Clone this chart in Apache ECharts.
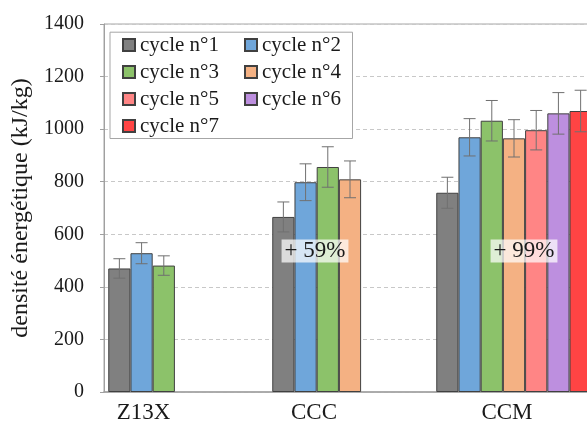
<!DOCTYPE html>
<html>
<head>
<meta charset="utf-8">
<script src="https://cdn.jsdelivr.net/npm/echarts@6/dist/echarts.min.js"></script>
<style>html,body{margin:0;padding:0;background:#fff;}#c{width:587px;height:422px;}</style>
</head>
<body>
<div id="c"></div>
<script>
const categories = ['Z13X', 'CCC', 'CCM'];
const seriesNames = ['cycle n°1', 'cycle n°2', 'cycle n°3', 'cycle n°4', 'cycle n°5', 'cycle n°6', 'cycle n°7'];
const cycle1 = [470, 666, 758];
const cycle2 = [528, 798, 969];
const cycle3 = [481, 856, 1032];
const cycle4 = [null, 809, 965];
const cycle5 = [null, null, 996];
const cycle6 = [null, null, 1060];
const cycle7 = [null, null, 1069];
const err1 = [37, 57, 59];
const err2 = [40, 70, 71];
const err3 = [37, 77, 77];
const err4 = [null, 70, 71];
const err5 = [null, null, 75];
const err6 = [null, null, 79];
const err7 = [null, null, 79];
const annotations = [{ cat: 'CCC', text: '+ 59%' }, { cat: 'CCM', text: '+ 99%' }];
const yTicks = [0, 200, 400, 600, 800, 1000, 1200, 1400];

const values = [cycle1, cycle2, cycle3, cycle4, cycle5, cycle6, cycle7];
const errors = [err1, err2, err3, err4, err5, err6, err7];
const colors = ['#808080', '#6fa6da', '#8cc26a', '#f4b183', '#ff8585', '#bd8fdf', '#ff4444'];
const FONT = 'Liberation Serif';
const GAP = 0.052;
const N = seriesNames.length;

const series = [];
values.forEach((vals, s) => {
  series.push({
    name: seriesNames[s], type: 'bar',
    data: vals.map(v => v == null ? '-' : v),
    barGap: '0%', barCategoryGap: (GAP * 100) + '%',
    itemStyle: { color: colors[s], borderColor: '#404040', borderWidth: 1 },
    z: 2
  });
});
values.forEach((vals, s) => {
  const d = [];
  vals.forEach((v, i) => { if (v != null) d.push([i, v, errors[s][i]]); });
  series.push({
    type: 'custom', silent: true, z: 5,
    data: d,
    renderItem: function (params, api) {
      const ci = api.value(0), v = api.value(1), e = api.value(2);
      const c = api.coord([ci, v]);
      const band = api.size([1, 0])[0];
      const used = band * (1 - GAP);
      const bw = used / N;
      const x = c[0] - used / 2 + bw * (s + 0.5);
      const yt = api.coord([ci, v + e])[1];
      const yb = api.coord([ci, v - e])[1];
      const cap = 6;
      const st = { stroke: '#707070', lineWidth: 1 };
      return { type: 'group', children: [
        { type: 'line', shape: { x1: x, y1: yt, x2: x, y2: yb }, style: st },
        { type: 'line', shape: { x1: x - cap, y1: yt, x2: x + cap, y2: yt }, style: st },
        { type: 'line', shape: { x1: x - cap, y1: yb, x2: x + cap, y2: yb }, style: st }
      ]};
    }
  });
});

const labelPad = [85, 72, 14];
const rich = {};
labelPad.forEach((p, i) => { rich['c' + i] = { fontFamily: FONT, fontSize: 23, color: '#1a1a1a', padding: [0, p, 0, 0] }; });

const option = {
  animation: false,
  backgroundColor: '#fff',
  grid: { left: 104, top: 24, width: 492, height: 368, show: true, borderColor: '#a6a6a6', borderWidth: 1,
          containLabel: false, outerBoundsMode: 'none' },
  legend: {
    data: seriesNames, left: 122, top: 34.5, width: 240, padding: 0,
    itemWidth: 12, itemHeight: 12, itemGap: 6, icon: 'rect',
    textStyle: { fontFamily: FONT, fontSize: 21, color: '#1a1a1a', width: 98, lineHeight: 21 },
    z: 6
  },
  graphic: [{
    type: 'rect', z: 4, left: 109.5, top: 31.7,
    shape: { width: 242.5, height: 106.3 },
    style: { fill: '#fff', stroke: '#a6a6a6', lineWidth: 1 }
  }],
  xAxis: {
    type: 'category', data: categories,
    axisLine: { lineStyle: { color: '#a0a0a0', width: 1.5 } },
    axisTick: { show: false },
    axisLabel: { margin: 9, formatter: (v, i) => '{c' + i + '|' + v + '}', rich: rich }
  },
  yAxis: {
    type: 'value', min: yTicks[0], max: yTicks[yTicks.length - 1], interval: yTicks[1] - yTicks[0],
    name: 'densité énergétique (kJ/kg)', nameLocation: 'middle', nameGap: 66,
    nameTextStyle: { fontFamily: FONT, fontSize: 24, color: '#1a1a1a' },
    axisLine: { show: true, lineStyle: { color: '#a0a0a0' } },
    axisTick: { show: true, length: 4, lineStyle: { color: '#a0a0a0' } },
    axisLabel: { margin: 20, fontFamily: FONT, fontSize: 20, color: '#1a1a1a', formatter: v => String(v) },
    splitLine: { lineStyle: { type: [4, 3], color: '#c8c8c8' } }
  },
  series: series
};

const chart = echarts.init(document.getElementById('c'));
chart.setOption(option);

const annOffsets = [-35, 10];
const annY = 536;
const g = annotations.map((a, k) => {
  const p = chart.convertToPixel({ gridIndex: 0 }, [a.cat, annY]);
  return {
    type: 'text', z: 10, x: p[0] + annOffsets[k], y: p[1],
    style: {
      text: a.text, fontFamily: FONT, fontSize: 23, fill: '#1a1a1a',
      align: 'center', verticalAlign: 'middle',
      backgroundColor: 'rgba(255,255,255,0.72)', padding: [0, 3, 0, 3], lineHeight: 23
    }
  };
});
chart.setOption({ graphic: option.graphic.concat(g) });
</script>
</body>
</html>
